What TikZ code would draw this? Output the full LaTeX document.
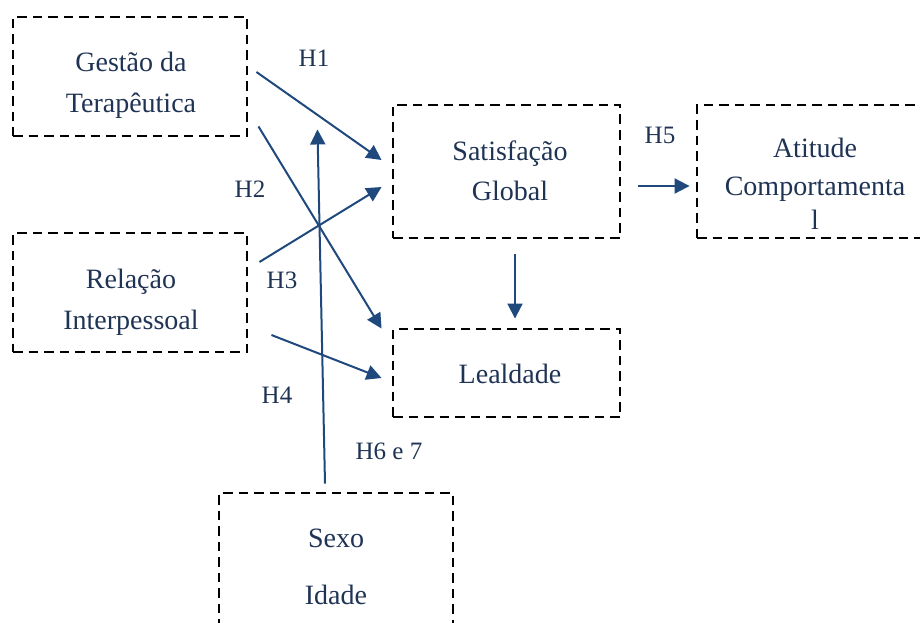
\documentclass[tikz,border=0pt]{standalone}
\usepackage{fontspec}
\setmainfont{Liberation Serif}
\usetikzlibrary{arrows.meta,calc}
\definecolor{inkblue}{HTML}{1F3354}
\definecolor{arrowblue}{HTML}{1F497D}
\tikzset{
  box/.style={draw=black, line width=2.9pt, dash pattern=on 9.5pt off 6pt, inner sep=0pt},
  txt/.style={anchor=base, text=inkblue, font=\fontsize{28}{28}\selectfont, inner sep=0pt},
  hyp/.style={anchor=base, text=inkblue, font=\fontsize{25}{25}\selectfont, inner sep=0pt},
  link/.style={draw=arrowblue, line width=2pt, -{Triangle[length=15pt,width=15pt]}}
}
\begin{document}
\begin{tikzpicture}[x=1pt,y=-1pt]
\useasboundingbox (0,0) rectangle (920,623);

% boxes
\node[box, minimum width=234pt, minimum height=119pt] (gt) at (130,76.5) {};
\node[box, minimum width=234pt, minimum height=119pt] (ri) at (130,292.5) {};
\node[box, minimum width=227pt, minimum height=133pt] (sg) at (506.5,171.5) {};
\node[box, minimum width=236pt, minimum height=133pt] (ac) at (815,171.5) {};
\node[box, minimum width=227pt, minimum height=88pt] (le) at (506.5,373) {};
\node[box, minimum width=234pt, minimum height=150pt] (si) at (336,568) {};

% box texts
\node[txt] (gt1) at (131,72) {Gestão da};
\node[txt] (gt2) at (131,113) {Terapêutica};
\node[txt] (ri1) at (131,288) {Relação};
\node[txt] (ri2) at (131,329) {Interpessoal};
\node[txt] (sg1) at (510,160) {Satisfação};
\node[txt] (sg2) at (510,200) {Global};
\node[txt] (ac1) at (815,157) {Atitude};
\node[txt] (ac2) at (815,195) {Comportamenta};
\node[txt] (ac3) at (815,229) {l};
\node[txt] (le1) at (510,383) {Lealdade};
\node[txt] (si1) at (336,547) {Sexo};
\node[txt] (si2) at (336,604) {Idade};

% hypothesis labels
\node[hyp] (h1) at (314,67) {H1};
\node[hyp] (h2) at (250,197) {H2};
\node[hyp] (h3) at (282,288) {H3};
\node[hyp] (h4) at (277,403) {H4};
\node[hyp] (h5) at (660,143) {H5};
\node[hyp] (h67) at (389,459) {H6 e 7};

% free end of the moderator arrow
\coordinate (modtip) at ($(gt.south east)+(69,-8)$);

% connectors
\draw[link] ($(gt.east)+(8,-4.5)$) -- ($(sg.west)+(-10,-11.5)$);
\draw[link] ($(gt.south east)+(10,-11)$) -- ($(le.north west)+(-10,1)$);
\draw[link] ($(ri.east)+(11,-30.5)$) -- ($(sg.west)+(-10,15.5)$);
\draw[link] ($(ri.east)+(23,42.5)$) -- ($(le.west)+(-10,5)$);
\draw[link] ($(si.north)+(-11,-8)$) -- (modtip);
\draw[link] ($(sg.south)+(8.5,15)$) -- ($(le.north)+(8.5,-9)$);
\draw[link] ($(sg.east)+(17,14.5)$) -- ($(ac.west)+(-6,14.5)$);
\end{tikzpicture}
\end{document}
